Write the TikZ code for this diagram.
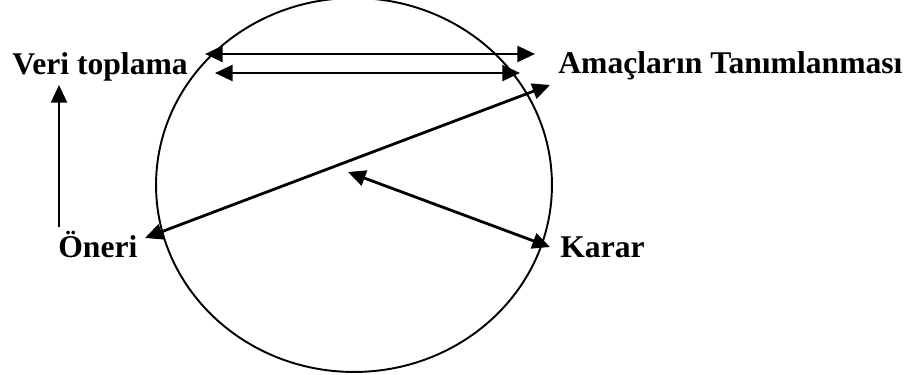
\documentclass[tikz,border=0pt]{standalone}
\usepackage{fontspec}
\setmainfont{Liberation Serif}
\usetikzlibrary{arrows.meta, positioning}

\begin{document}
\begin{tikzpicture}[
    x=0.02cm, y=-0.02cm,
    lbl/.style={inner sep=0pt, anchor=base west, font=\fontsize{18}{20}\selectfont\bfseries},
    conn/.style={line width=1.6pt},
    >={Triangle[length=10pt, width=9pt]}
]
\useasboundingbox (0,0) rectangle (909,375);

% Circle
\draw[line width=1.1pt] (354,185) ellipse [x radius=3.96cm, y radius=3.74cm];

% Labels
\node[lbl] (veri) at (12,75) {Veri toplama};
\node[lbl] (amac) at (558,73) {Amaçların Tanımlanması};
\node[lbl] (oneri) at (58,257) {Öneri};
\node[lbl] (karar) at (560,257) {Karar};

% Arrow ends
\coordinate (top1l) at (205,54);
\coordinate (top1r) at (535,54);
\coordinate (top2l) at (215,73);
\coordinate (top2r) at (520,73);
\coordinate (diagl) at (145,238);
\coordinate (diagr) at (550,85);
\coordinate (centre) at (348,172);
\coordinate (kararin) at (550,247);
\coordinate (onerup) at (59,227);
\coordinate (veridn) at (59,85);

% Arrows
\draw[conn, <->] (top1l) -- (top1r);
\draw[conn, <->] (top2l) -- (top2r);
\draw[conn, <->] (diagl) -- (diagr);
\draw[conn, <->] (centre) -- (kararin);
\draw[conn, ->] (onerup) -- (veridn);

\end{tikzpicture}
\end{document}
